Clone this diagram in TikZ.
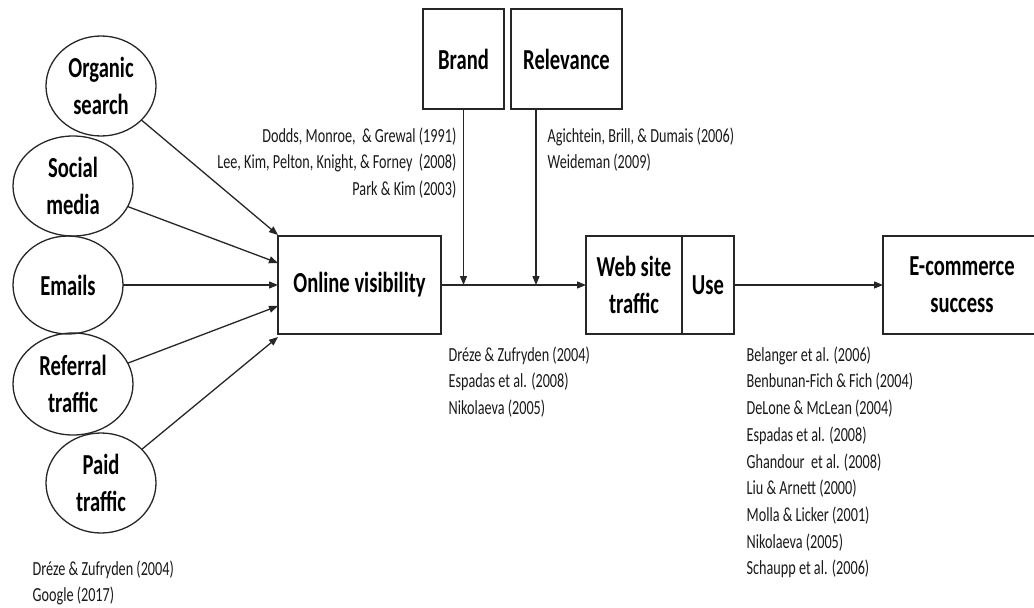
\documentclass[tikz,border=0pt]{standalone}
\usepackage{fontspec}
\setmainfont{Carlito}[FakeStretch=0.71]
\usetikzlibrary{shapes.geometric,arrows.meta,calc}

\begin{document}
\begin{tikzpicture}[x=1pt,y=-1pt,
  line width=1.3pt,
  ink/.style={draw=black!85},
  lab/.style={font=\fontsize{29}{37}\selectfont\bfseries, align=center,
              inner sep=0pt, outer sep=0pt, text=black},
  boxnode/.style={lab, ink, rectangle},
  oval/.style={lab, ink, ellipse},
  refs/.style={font=\fontsize{20}{26.7}\selectfont, inner sep=0pt, text=black!90},
  arr/.style={ink, -{Triangle[length=9pt,width=7pt]}}
]
\useasboundingbox (0,0) rectangle (1034,608);
\clip (0,0) rectangle (1034,608);

% traffic sources
\node[oval, minimum width=110pt, minimum height=100pt] (org)  at (101,86)  {Organic\\search};
\node[oval, minimum width=120pt, minimum height=100pt] (soc)  at (73,186)  {Social\\media};
\node[oval, minimum width=110pt, minimum height=98pt]  (ema)  at (68,285)  {Emails};
\node[oval, minimum width=120pt, minimum height=102pt] (ref)  at (73,384)  {Referral\\traffic};
\node[oval, minimum width=110pt, minimum height=100pt] (paid) at (101,483) {Paid\\traffic};

% constructs
\node[boxnode, minimum width=163pt, minimum height=98pt]  (vis)   at (359.5,285) {Online visibility};
\node[boxnode, minimum width=81pt,  minimum height=100pt] (brand) at (463.5,59)  {Brand};
\node[boxnode, minimum width=111pt, minimum height=100pt] (relev) at (566.5,59)  {Relevance};
\node[boxnode, minimum width=96pt,  minimum height=98pt]  (web)   at (634,285)   {Web site\\traffic};
\node[boxnode, minimum width=52pt,  minimum height=98pt]  (use)   at (708,285)   {Use};
\node[boxnode, minimum width=158pt, minimum height=98pt]  (ecom)  at (962,285)   {E-commerce\\success};

% entry points on the left side of the visibility box
\coordinate (v1) at (278,235);
\coordinate (v2) at (278,263);
\coordinate (v3) at (278,285);
\coordinate (v4) at (278,306);
\coordinate (v5) at (278,337);
\coordinate (rtop) at (536,109);

\draw[arr] (org)  -- (v1);
\draw[arr] (soc)  -- (v2);
\draw[arr] (ema)  -- (v3);
\draw[arr] (ref)  -- (v4);
\draw[arr] (paid) -- (v5);

\draw[arr] (vis.east) -- (web.west);
\draw[arr] (brand.south) -- (brand.south |- vis.east);
\draw[arr] (rtop) -- (rtop |- vis.east);
\draw[arr] (use.east) -- (ecom.west);

% supporting literature
\node[refs, anchor=north west, align=left] (c1) at (32,560)
  {Dréze \& Zufryden (2004)\\Google (2017)};
\node[refs, anchor=north east, align=right] (c2) at (457,127)
  {Dodds, Monroe,\ \ \& Grewal (1991)\\Lee, Kim, Pelton, Knight, \& Forney\ \ (2008)\\Park \& Kim (2003)};
\node[refs, anchor=north west, align=left] (c3) at (547,127)
  {Agichtein, Brill, \& Dumais (2006)\\Weideman (2009)};
\node[refs, anchor=north west, align=left] (c4) at (448,346)
  {Dréze \& Zufryden (2004)\\Espadas et al. (2008)\\Nikolaeva (2005)};
\node[refs, anchor=north west, align=left] (c5) at (746,346)
  {Belanger et al. (2006)\\Benbunan-Fich \& Fich (2004)\\DeLone \& McLean (2004)\\Espadas et al. (2008)\\Ghandour\ \ et al. (2008)\\Liu \& Arnett (2000)\\Molla \& Licker (2001)\\Nikolaeva (2005)\\Schaupp et al. (2006)};
\end{tikzpicture}
\end{document}
